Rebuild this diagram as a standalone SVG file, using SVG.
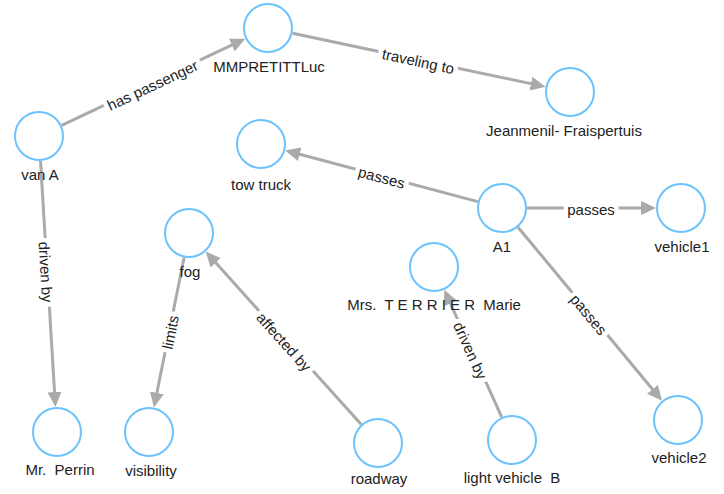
<svg xmlns="http://www.w3.org/2000/svg" width="724" height="494" viewBox="0 0 724 494">
<style>
.node circle{fill:#fff;stroke:#6cc3fb;stroke-width:2}
.node text{font-family:"Liberation Sans",Arial,sans-serif;font-size:15px;fill:#222;text-anchor:middle}
.edge line{stroke:#aaa;stroke-width:3}
.elabel{font-family:"Liberation Sans",Arial,sans-serif;font-size:15px;fill:#222;text-anchor:middle;stroke:#fff;stroke-width:9;stroke-linejoin:round;paint-order:stroke}
</style>
<defs>
<marker id="arr" markerUnits="userSpaceOnUse" markerWidth="16" markerHeight="14" refX="1" refY="7" orient="auto">
<path d="M0,0 L15,7 L0,14 z" fill="#aaa"/>
</marker>
</defs>
<g id="connectors">
<g class="edge"><line x1="61.6" y1="125.3" x2="232.7" y2="44.6" marker-end="url(#arr)"/><text class="elabel" dy="0.45em" transform="translate(152,84) rotate(-25.2)">has passenger</text></g>
<g class="edge"><line x1="292.5" y1="33.2" x2="531.9" y2="83.9" marker-end="url(#arr)"/><text class="elabel" dy="0.45em" transform="translate(418.5,59.9) rotate(12)">traveling to</text></g>
<g class="edge"><line x1="477.8" y1="201.6" x2="298.7" y2="154" marker-end="url(#arr)"/><text class="elabel" dy="0.45em" transform="translate(382,176.2) rotate(14.9)">passes</text></g>
<g class="edge"><line x1="527" y1="208" x2="642" y2="208" marker-end="url(#arr)"/><text class="elabel" dy="0.45em" transform="translate(591,208)">passes</text></g>
<g class="edge"><line x1="518" y1="227.2" x2="653.1" y2="390" marker-end="url(#arr)"/><text class="elabel" dy="0.45em" transform="translate(589.7,313.6) rotate(50.3)">passes</text></g>
<g class="edge"><line x1="40.5" y1="161" x2="54.6" y2="393" marker-end="url(#arr)"/><text class="elabel" dy="0.45em" transform="translate(47.2,272) rotate(86.5)">driven by</text></g>
<g class="edge"><line x1="184.1" y1="257.5" x2="156.7" y2="393.8" marker-end="url(#arr)"/><text class="elabel" dy="0.45em" transform="translate(169.1,332) rotate(-78.6)">limits</text></g>
<g class="edge"><line x1="361.3" y1="424.4" x2="215.1" y2="262" marker-end="url(#arr)"/><text class="elabel" dy="0.45em" transform="translate(285,341) rotate(48)">affected by</text></g>
<g class="edge"><line x1="501.7" y1="417.2" x2="450" y2="302.5" marker-end="url(#arr)"/><text class="elabel" dy="0.45em" transform="translate(471.5,350) rotate(65.7)">driven by</text></g>
</g>
<g id="n-petit" class="node"><circle cx="268" cy="28" r="24"/><text x="269" y="72">MMPRETITTLuc</text></g>
<g id="n-jeanmenil" class="node"><circle cx="570" cy="92" r="24"/><text x="564" y="136">Jeanmenil- Fraispertuis</text></g>
<g id="n-vana" class="node"><circle cx="39" cy="136" r="24"/><text x="40" y="180">van A</text></g>
<g id="n-towtruck" class="node"><circle cx="261" cy="144" r="24"/><text x="261" y="190">tow truck</text></g>
<g id="n-a1" class="node"><circle cx="502" cy="208" r="24"/><text x="502" y="252">A1</text></g>
<g id="n-vehicle1" class="node"><circle cx="681" cy="208" r="24"/><text x="682" y="252">vehicle1</text></g>
<g id="n-fog" class="node"><circle cx="189" cy="233" r="24"/><text x="190" y="277">fog</text></g>
<g id="n-terrier" class="node"><circle cx="434" cy="267" r="24"/><text x="434" y="310" xml:space="preserve">Mrs.  T E R R I E R  Marie</text></g>
<g id="n-visibility" class="node"><circle cx="149" cy="432" r="24"/><text x="151" y="476">visibility</text></g>
<g id="n-perrin" class="node"><circle cx="57" cy="432" r="24"/><text x="60" y="475" xml:space="preserve">Mr.  Perrin</text></g>
<g id="n-roadway" class="node"><circle cx="378" cy="443" r="24"/><text x="379" y="484">roadway</text></g>
<g id="n-lvb" class="node"><circle cx="512" cy="440" r="24"/><text x="512" y="483" xml:space="preserve">light vehicle  B</text></g>
<g id="n-vehicle2" class="node"><circle cx="678" cy="420" r="24"/><text x="679" y="463">vehicle2</text></g>
</svg>
